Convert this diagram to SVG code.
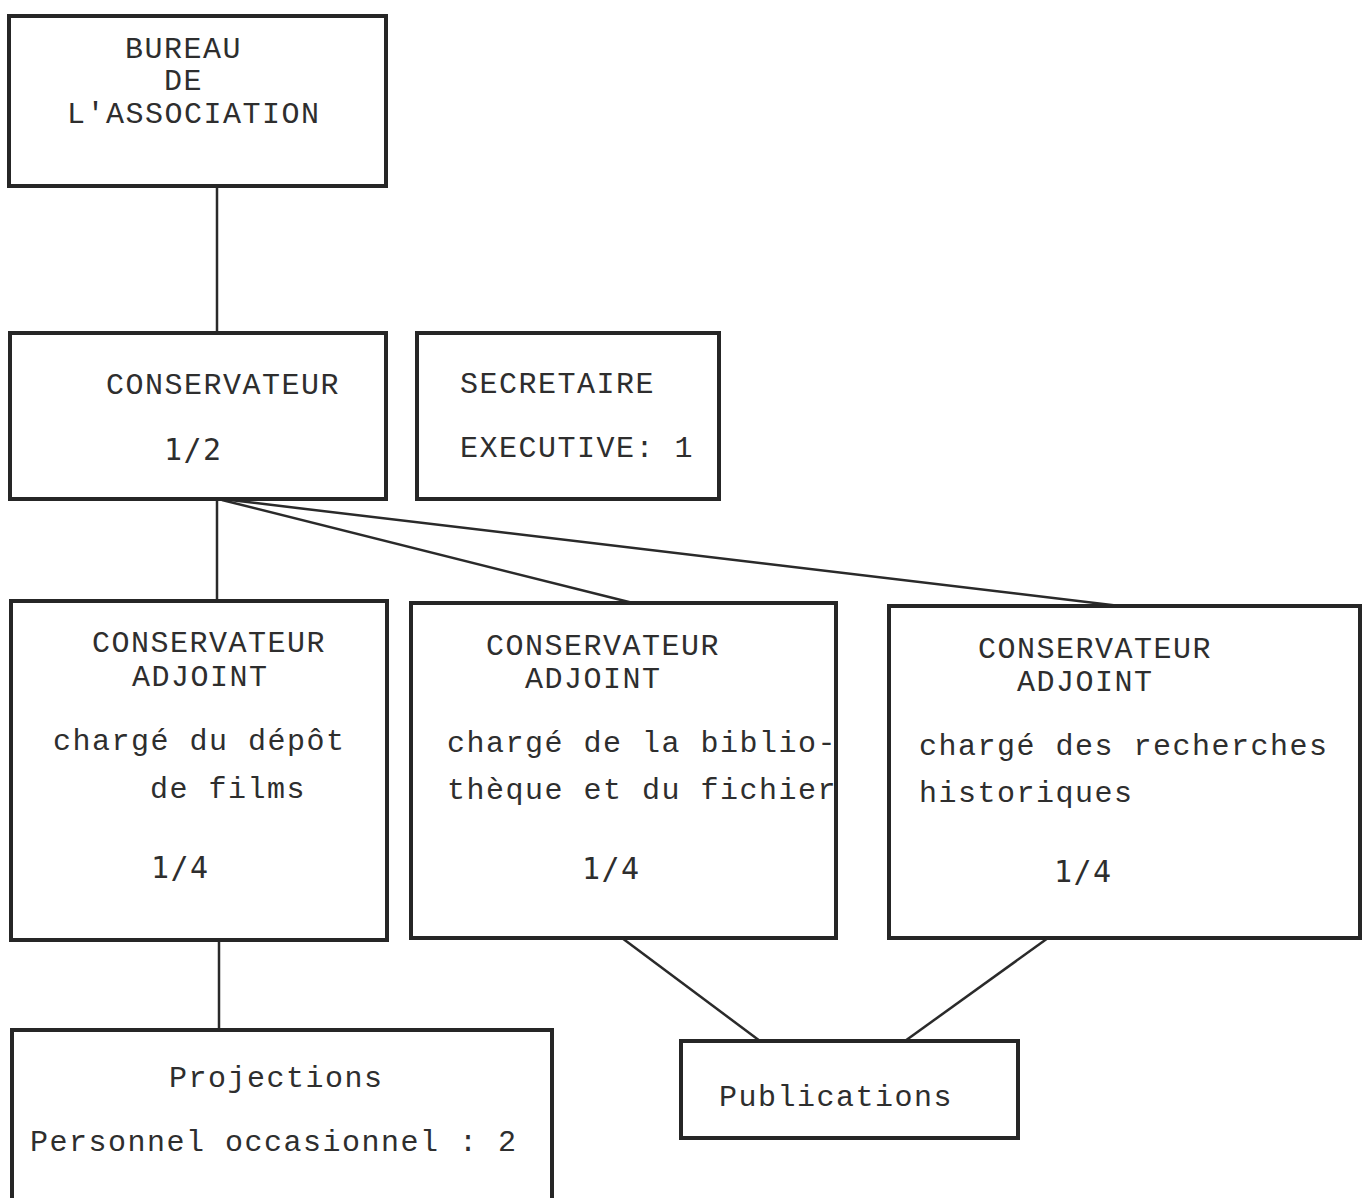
<svg xmlns="http://www.w3.org/2000/svg" width="1366" height="1198" viewBox="0 0 1366 1198">
<style>
.box{fill:none;stroke:#262626;stroke-width:4}
.con{fill:none;stroke:#2a2a2a;stroke-width:2.5}
.t{font-family:"Liberation Mono","Courier New",monospace;font-size:30px;letter-spacing:1.5px;fill:#2e2e2e}
.n{font-family:"DejaVu Sans Mono","Liberation Mono",monospace;font-size:30px;letter-spacing:1.5px;fill:#2e2e2e}
</style>
<rect width="1366" height="1198" fill="#ffffff"/>
<g id="connectors">
<line class="con" x1="217" y1="186" x2="217" y2="333"/>
<line class="con" x1="217" y1="499" x2="217" y2="601"/>
<line class="con" x1="222" y1="500" x2="633" y2="603"/>
<line class="con" x1="230" y1="500" x2="1120" y2="606"/>
<line class="con" x1="219" y1="940" x2="219" y2="1030"/>
<line class="con" x1="622" y1="938" x2="760" y2="1041"/>
<line class="con" x1="1048" y1="938" x2="905" y2="1041"/>
</g>
<g id="bureau">
<rect class="box" x="9" y="16" width="377" height="170"/>
<text class="t" x="125" y="58">BUREAU</text>
<text class="t" x="164" y="90">DE</text>
<text class="t" x="67" y="123">L'ASSOCIATION</text>
</g>
<g id="conservateur">
<rect class="box" x="10" y="333" width="376" height="166"/>
<text class="t" x="106" y="394">CONSERVATEUR</text>
<text class="n" x="164" y="460">1/2</text>
</g>
<g id="secretaire">
<rect class="box" x="417" y="333" width="302" height="166"/>
<text class="t" x="460" y="393">SECRETAIRE</text>
<text class="t" x="460" y="457">EXECUTIVE: 1</text>
</g>
<g id="adjoint-depot">
<rect class="box" x="11" y="601" width="376" height="339"/>
<text class="t" x="92" y="652">CONSERVATEUR</text>
<text class="t" x="132" y="686">ADJOINT</text>
<text class="t" x="53" y="750">chargé du dépôt</text>
<text class="t" x="150" y="798">de films</text>
<text class="n" x="151" y="878">1/4</text>
</g>
<g id="adjoint-bibliotheque">
<rect class="box" x="411" y="603" width="425" height="335"/>
<text class="t" x="486" y="655">CONSERVATEUR</text>
<text class="t" x="525" y="688">ADJOINT</text>
<text class="t" x="447" y="752">chargé de la biblio-</text>
<text class="t" x="447" y="799">thèque et du fichier</text>
<text class="n" x="582" y="879">1/4</text>
</g>
<g id="adjoint-recherches">
<rect class="box" x="889" y="606" width="471" height="332"/>
<text class="t" x="978" y="658">CONSERVATEUR</text>
<text class="t" x="1017" y="691">ADJOINT</text>
<text class="t" x="919" y="755">chargé des recherches</text>
<text class="t" x="919" y="802">historiques</text>
<text class="n" x="1054" y="882">1/4</text>
</g>
<g id="projections">
<rect class="box" x="12" y="1030" width="540" height="175"/>
<text class="t" x="169" y="1087">Projections</text>
<text class="t" x="30" y="1151">Personnel occasionnel : 2</text>
</g>
<g id="publications">
<rect class="box" x="681" y="1041" width="337" height="97"/>
<text class="t" x="719" y="1106">Publications</text>
</g>
</svg>
